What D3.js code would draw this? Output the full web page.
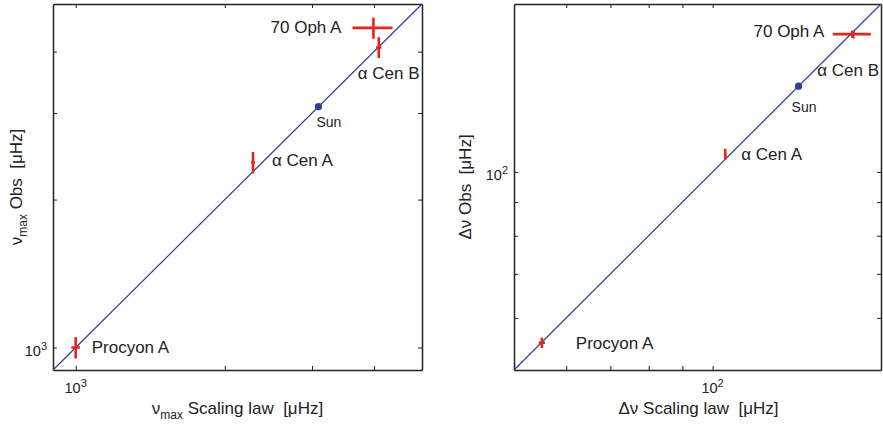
<!DOCTYPE html>
<html lang="en">
<head>
  <meta charset="UTF-8">
  <title>Scaling law vs observed</title>
  <script src="https://d3js.org/d3.v7.min.js"></script>
  <style>
    body {
      margin: 0;
      background: #fff;
      font-family: "Liberation Sans", Arial, sans-serif;
    }
    text {
      fill: #222;
    }
    .axis path, .axis line {
      stroke: #222;
    }
    .axis path {
      stroke-width: 1.5px;
    }
  </style>
</head>
<body>
  <svg width="883" height="425"></svg>

  <script>
    const stars = ["Procyon A", "α Cen A", "Sun", "α Cen B", "70 Oph A"];

    // nu_max, micro-Hz
    const numaxLaw    = [1000, 2280, 3090, 4090, 3990];
    const numaxObs    = [1000, 2380, 3090, 4080, 4470];
    const numaxLawErr = [20, 20, 0, 50, 370];
    const numaxObsErr = [50, 120, 0, 200, 220];
    const numaxDomain = [900, 5000];
    const numaxTicks  = [1000, 2000, 3000, 4000];
    const numaxTickLabels = [{ value: 1000, base: "10", exp: "3" }];

    // delta nu, micro-Hz
    const dnuLaw    = [55.1, 104.5, 135.0, 163.4, 162.9];
    const dnuObs    = [55.0, 106.4, 135.0, 161.8, 162.0];
    const dnuLawErr = [0.6, 0.4, 0, 0.5, 10.8];
    const dnuObsErr = [1.0, 2.0, 0, 2.2, 2.0];
    const dnuDomain = [50, 180];
    const dnuTicks  = [60, 70, 80, 90, 100];
    const dnuTickLabels = [{ value: 100, base: "10", exp: "2" }];

    const svg = d3.select("svg");
    const red = "#e3261c";
    const blue = "#2b3f9e";
    const sp2 = "\u00a0 "; // double space, kept by svg

    function drawPanel(p) {
      const x = d3.scaleLog().domain(p.domain).range([p.left, p.right]);
      const y = d3.scaleLog().domain(p.domain).range([p.bottom, p.top]);
      const g = svg.append("g");

      // box with inward ticks on all four sides
      g.append("g").attr("class", "axis")
        .attr("transform", `translate(0,${p.bottom})`)
        .call(d3.axisBottom(x).tickValues(p.ticks).tickSizeInner(-4).tickSizeOuter(0).tickFormat(""));
      g.append("g").attr("class", "axis")
        .attr("transform", `translate(0,${p.top})`)
        .call(d3.axisTop(x).tickValues(p.ticks).tickSizeInner(-4).tickSizeOuter(0).tickFormat(""));
      g.append("g").attr("class", "axis")
        .attr("transform", `translate(${p.left},0)`)
        .call(d3.axisLeft(y).tickValues(p.ticks).tickSizeInner(-4).tickSizeOuter(0).tickFormat(""));
      g.append("g").attr("class", "axis")
        .attr("transform", `translate(${p.right},0)`)
        .call(d3.axisRight(y).tickValues(p.ticks).tickSizeInner(-4).tickSizeOuter(0).tickFormat(""));

      // tick labels with superscript
      p.tickLabels.forEach(t => {
        const tx = g.append("text")
          .attr("x", x(t.value))
          .attr("y", p.bottom + 23)
          .attr("text-anchor", "middle")
          .attr("font-size", "14.5px");
        tx.append("tspan").text(t.base);
        tx.append("tspan").attr("dy", -6).attr("font-size", "11px").text(t.exp);

        const ty = g.append("text")
          .attr("x", p.left - 6)
          .attr("y", y(t.value) + 8)
          .attr("text-anchor", "end")
          .attr("font-size", "14.5px");
        ty.append("tspan").text(t.base);
        ty.append("tspan").attr("dy", -6).attr("font-size", "11px").text(t.exp);
      });

      // one-to-one line
      g.append("line")
        .attr("x1", x(p.domain[0])).attr("y1", y(p.domain[0]))
        .attr("x2", x(p.domain[1])).attr("y2", y(p.domain[1]))
        .attr("stroke", blue)
        .attr("stroke-width", 1.2);

      const data = stars.map((s, i) => ({
        name: s, x: p.xs[i], y: p.ys[i], xe: p.xe[i], ye: p.ye[i], lab: p.labels[i]
      }));

      // error bars
      data.filter(d => d.xe > 0 || d.ye > 0).forEach(d => {
        g.append("line")
          .attr("x1", x(d.x - d.xe)).attr("x2", x(d.x + d.xe))
          .attr("y1", y(d.y)).attr("y2", y(d.y))
          .attr("stroke", red).attr("stroke-width", 2.6);
        g.append("line")
          .attr("x1", x(d.x)).attr("x2", x(d.x))
          .attr("y1", y(d.y - d.ye)).attr("y2", y(d.y + d.ye))
          .attr("stroke", red).attr("stroke-width", 2.6);
      });

      // sun
      data.filter(d => d.name === "Sun").forEach(d => {
        g.append("circle")
          .attr("cx", x(d.x)).attr("cy", y(d.y))
          .attr("r", 3.6)
          .attr("fill", blue);
      });

      // star names
      data.forEach(d => {
        g.append("text")
          .attr("x", x(d.x) + d.lab[0])
          .attr("y", y(d.y) + d.lab[1])
          .attr("text-anchor", d.lab[2])
          .attr("font-size", d.name === "Sun" ? "14px" : "17px")
          .text(d.name);
      });

      // axis titles
      const cx = (p.left + p.right) / 2;
      const xt = g.append("text")
        .attr("x", cx + p.xTitleShift)
        .attr("y", p.bottom + 44)
        .attr("text-anchor", "middle")
        .attr("font-size", "17px");
      p.xTitle.forEach(part => {
        const ts = xt.append("tspan").text(part.t);
        if (part.sub) ts.attr("font-size", "12px").attr("dy", 5);
        if (part.back) ts.attr("dy", -5);
      });

      const cy = (p.top + p.bottom) / 2;
      const yt = g.append("text")
        .attr("transform", `translate(${p.left - p.yTitleGap},${cy}) rotate(-90)`)
        .attr("text-anchor", "middle")
        .attr("font-size", "17px");
      p.yTitle.forEach(part => {
        const ts = yt.append("tspan").text(part.t);
        if (part.sub) ts.attr("font-size", "12px").attr("dy", 5);
        if (part.back) ts.attr("dy", -5);
      });
    }

    drawPanel({
      left: 53, right: 422, top: 4, bottom: 370,
      domain: numaxDomain, ticks: numaxTicks, tickLabels: numaxTickLabels,
      xs: numaxLaw, ys: numaxObs, xe: numaxLawErr, ye: numaxObsErr,
      labels: [[16, 5, "start"], [19, 4, "start"], [-2, 20, "start"], [-21, 32, "start"], [-32, 5, "end"]],
      xTitle: [{ t: "ν" }, { t: "max", sub: true }, { t: " Scaling law" + sp2 + "[μHz]", back: true }],
      yTitle: [{ t: "ν" }, { t: "max", sub: true }, { t: " Obs" + sp2 + "[μHz]", back: true }],
      xTitleShift: 0, yTitleGap: 31
    });

    drawPanel({
      left: 514, right: 881, top: 4, bottom: 370,
      domain: dnuDomain, ticks: dnuTicks, tickLabels: dnuTickLabels,
      xs: dnuLaw, ys: dnuObs, xe: dnuLawErr, ye: dnuObsErr,
      labels: [[34, 6, "start"], [16, 6, "start"], [-7, 26, "start"], [-36, 42, "start"], [-28, 3, "end"]],
      xTitle: [{ t: "Δν Scaling law" + sp2 + "[μHz]" }],
      yTitle: [{ t: "Δν Obs" + sp2 + "[μHz]" }],
      xTitleShift: 1, yTitleGap: 43
    });
  </script>
</body>
</html>
